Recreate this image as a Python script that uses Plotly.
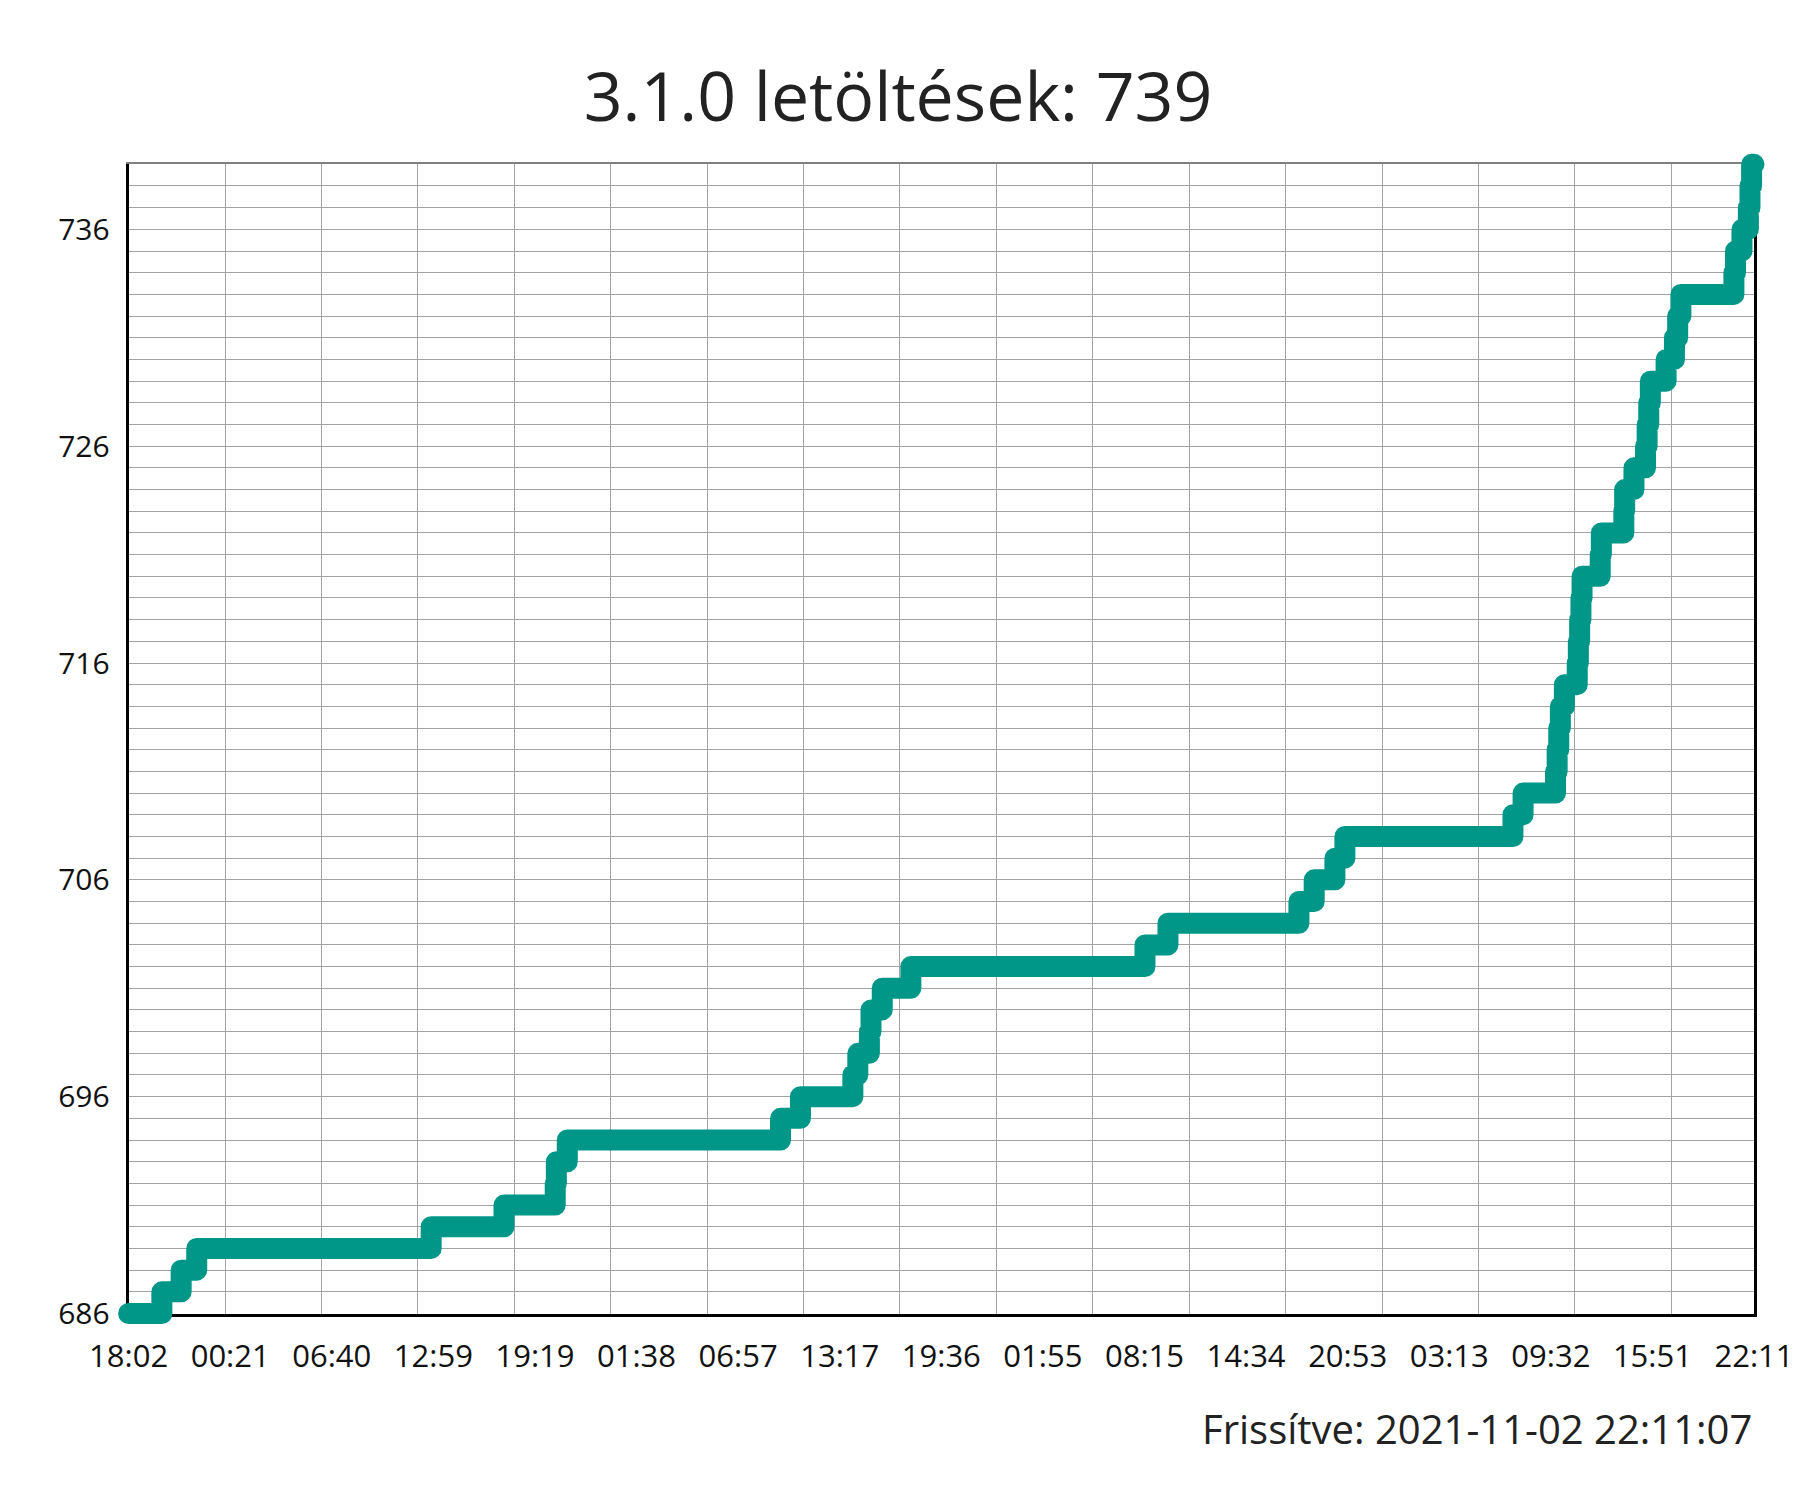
import numpy as np
import plotly.graph_objects as go

# ---- data (hours since first sample 2021-10-29 18:02, cumulative downloads) ----
hours = [0, 2.07, 3.27, 4.24, 18.83, 23.36, 26.55, 26.62, 27.3, 40.57, 41.81,
         45.07, 45.38, 46.1, 46.2, 46.9, 48.68, 63.25, 64.68, 72.83, 73.78,
         75.07, 75.69, 86.15, 86.78, 88.8, 88.9, 89.0, 89.1, 89.35, 90.15,
         90.22, 90.3, 90.38, 90.45, 91.58, 91.65, 93.05, 93.1, 93.68, 94.4,
         94.5, 94.6, 94.7, 95.68, 96.2, 96.4, 96.6, 99.9, 100.0, 100.4,
         100.8, 100.9, 101.0, 101.15]
downloads = [686, 687, 688, 689, 690, 691, 692, 693, 694, 695, 696,
             697, 698, 699, 700, 701, 702, 703, 704, 705, 706,
             707, 708, 709, 710, 711, 712, 713, 714, 715, 716,
             717, 718, 719, 720, 721, 722, 723, 724, 725, 726,
             727, 728, 729, 730, 731, 732, 733, 734, 735, 736,
             737, 738, 739, 739]
x_tick_labels = ["18:02", "00:21", "06:40", "12:59", "19:19", "01:38", "06:57",
                 "13:17", "19:36", "01:55", "08:15", "14:34", "20:53", "03:13",
                 "09:32", "15:51", "22:11"]
y_range = [686, 739]
grid_step_hours = 6
title_text = "3.1.0 letöltések: 739"
updated_text = "Frissítve: 2021-11-02 22:11:07"

# ---- layout geometry (figure pixel coordinates) ----
W, H = 1800, 1500
ML, MR, MT, MB = 100, 20, 140, 160
pw, ph = W - ML - MR, H - MT - MB
plot_left, plot_right, plot_top, plot_bottom = 120.6, 1746, 156.3, 1305.5
dx = [(plot_left - ML) / pw, (plot_right - ML) / pw]
dy = [(H - MB - plot_bottom) / ph, (H - MB - plot_top) / ph]

x_range = [hours[0], hours[-1]]
tickvals = list(np.linspace(x_range[0], x_range[1], len(x_tick_labels)))

# extended (unclipped) axes for the data line so thick line caps are not cut
sx = (x_range[1] - x_range[0]) / (dx[1] - dx[0])
sy = (y_range[1] - y_range[0]) / (dy[1] - dy[0])
x2_range = [x_range[0] - dx[0] * sx, x_range[1] + (1 - dx[1]) * sx]
y2_range = [y_range[0] - dy[0] * sy, y_range[1] + (1 - dy[1]) * sy]

GRID = "#a3a3a3"
TEAL = "#009688"
FONT = "Open Sans"

fig = go.Figure()
# empty traces so the frame subplots (x/y and x3/y) get created
fig.add_trace(go.Scatter(x=[None], y=[None], xaxis="x", yaxis="y",
                         hoverinfo="skip", showlegend=False))
fig.add_trace(go.Scatter(x=[None], y=[None], xaxis="x3", yaxis="y",
                         hoverinfo="skip", showlegend=False))
fig.add_trace(go.Scatter(
    x=hours, y=downloads, mode="lines", line_shape="hv",
    line=dict(color=TEAL, width=21), xaxis="x2", yaxis="y2",
    hoverinfo="skip", showlegend=False))

fig.update_layout(
    width=W, height=H,
    margin=dict(l=ML, r=MR, t=MT, b=MB, autoexpand=False),
    paper_bgcolor="white", plot_bgcolor="rgba(0,0,0,0)",
    showlegend=False,
    title=dict(text=title_text, x=890 / W, xref="container", xanchor="center",
               y=1 - 89.5 / H, yref="container", yanchor="middle",
               font=dict(family=FONT, size=68, color="#222222")),
    xaxis=dict(domain=dx, anchor="y", range=x_range, tickmode="array",
               tickvals=tickvals, ticktext=x_tick_labels, showgrid=False,
               zeroline=False, showline=True, linecolor="black", linewidth=3,
               ticks="", ticklabelstandoff=13, automargin=False,
               tickfont=dict(family=FONT, size=31, color="#111111")),
    xaxis3=dict(domain=dx, anchor="y", overlaying="x", side="top", range=x_range,
                tickmode="linear", tick0=x_range[0], dtick=grid_step_hours,
                showgrid=True, gridcolor=GRID, gridwidth=1, zeroline=False,
                showticklabels=False, ticks="", showline=True, automargin=False,
                linecolor="#808080", linewidth=2),
    yaxis=dict(domain=dy, anchor="x", range=y_range, tickmode="linear",
               tick0=y_range[0], dtick=10, showgrid=True, gridcolor=GRID, gridwidth=1,
               minor=dict(tickmode="linear", tick0=y_range[0], dtick=1, showgrid=True,
                          gridcolor=GRID, gridwidth=1),
               zeroline=False, showline=True, mirror=True, linecolor="black",
               linewidth=3, ticks="", ticklabelstandoff=10, automargin=False,
               tickfont=dict(family=FONT, size=30, color="#111111")),
    xaxis2=dict(domain=[0, 1], anchor="y2", range=x2_range, visible=False),
    yaxis2=dict(domain=[0, 1], anchor="x2", range=y2_range, visible=False),
    annotations=[dict(text=updated_text, xref="paper", x=(plot_right - ML) / pw,
                      xanchor="right", yref="paper", y=(H - MB - 1420) / ph,
                      yanchor="middle", showarrow=False,
                      font=dict(family=FONT, size=40, color="#222222"))],
)

post = ("var gd=document.getElementById('{plot_id}');"
        "gd.querySelectorAll('.scatterlayer .js-line').forEach(function(p){"
        "p.style.strokeLinejoin='round';p.style.strokeLinecap='round';});")
fig.write_html("out.html", post_script=post)
